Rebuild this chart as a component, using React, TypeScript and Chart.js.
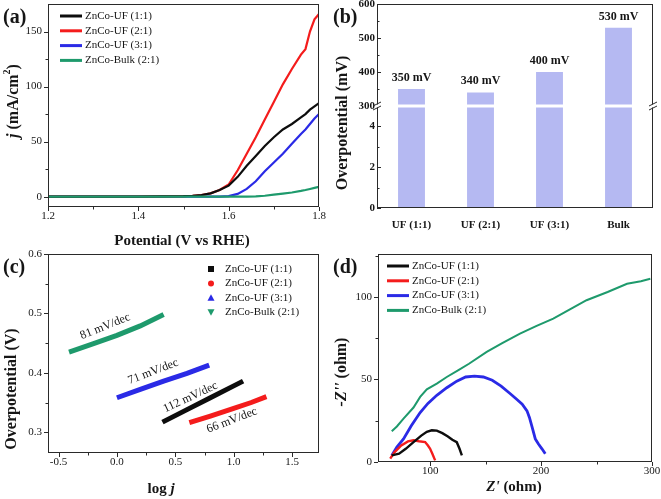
import React, { useEffect, useRef } from 'react';
import { Chart, registerables } from 'chart.js';

Chart.register(...registerables);

const SERIF = '"Liberation Serif", "Times New Roman", Times, serif';
Chart.defaults.font.family = SERIF;

// ---------------- data ----------------
const seriesNames = ['ZnCo-UF (1:1)', 'ZnCo-UF (2:1)', 'ZnCo-UF (3:1)', 'ZnCo-Bulk (2:1)'];

// (a) LSV curves: potential (V vs RHE) and current density (mA/cm2)
const lsvPotential = [1.2, 1.3, 1.4, 1.5, 1.52, 1.54, 1.56, 1.58, 1.6, 1.62, 1.64, 1.66, 1.68, 1.7, 1.72, 1.74, 1.76, 1.77, 1.78, 1.79, 1.8];
const lsvUF11 = [0, 0, 0.1, 0.4, 0.8, 1.5, 3, 6, 10, 18, 28, 37, 46, 54, 61, 66, 72, 75, 79, 82, 85];
const lsvUF21 = [0, 0, 0.1, 0.4, 0.8, 1.5, 3, 6, 11, 24, 39, 54, 70, 86, 102, 116, 129, 134, 150, 161, 166];
const lsvUF31 = [0, 0, 0, 0, 0, 0, 0, 0.1, 0.5, 2.5, 7, 14, 23, 31, 39, 48, 57, 61, 66, 71, 75];
const lsvBulk = [0, 0, 0, 0, 0, 0, 0, 0, 0, 0, 0, 0.3, 0.8, 1.8, 2.8, 3.8, 5.2, 6, 7, 8, 9];
const lsvXTicks = [1.2, 1.4, 1.6, 1.8];
const lsvXMinor = [1.3, 1.5, 1.7];
const lsvYTicks = [0, 50, 100, 150];
const lsvYMinor = [25, 75, 125];

// (b) overpotential bars
const barCategories = ['UF (1:1)', 'UF (2:1)', 'UF (3:1)', 'Bulk'];
const barValues = [350, 340, 400, 530];
const barHighTicks = [300, 400, 500, 600];
const barHighMinor = [350, 450, 550];
const barLowTicks = [0, 2, 4];
const barLowMinor = [1, 3];

// (c) Tafel
const tafelLogJ11 = [0.39, 0.6, 0.8, 1.0, 1.08];
const tafelEta11 = [0.317, 0.338, 0.358, 0.378, 0.386];
const tafelLogJ21 = [0.62, 0.8, 1.0, 1.15, 1.28];
const tafelEta21 = [0.316, 0.327, 0.34, 0.35, 0.36];
const tafelLogJ31 = [0.0, 0.2, 0.4, 0.6, 0.79];
const tafelEta31 = [0.358, 0.372, 0.386, 0.399, 0.413];
const tafelLogJBulk = [-0.41, -0.2, 0.0, 0.2, 0.4];
const tafelEtaBulk = [0.435, 0.449, 0.463, 0.479, 0.498];
const tafelSlopes = ['112 mV/dec', '66 mV/dec', '71 mV/dec', '81 mV/dec'];
const tafelXTicks = [-0.5, 0, 0.5, 1.0, 1.5];
const tafelXMinor = [-0.25, 0.25, 0.75, 1.25];
const tafelYTicks = [0.3, 0.4, 0.5, 0.6];
const tafelYMinor = [0.35, 0.45, 0.55];

// (d) Nyquist
const eisZre11 = [65.4, 72, 78, 85, 92, 97, 101.5, 106, 111, 116, 120, 124, 126.5, 128.6];
const eisZim11 = [4, 5, 8, 12, 16, 18.3, 19.2, 19, 17.5, 15.5, 13.5, 12, 8, 4];
const eisZre21 = [64, 68, 74, 80, 85, 90, 95.5, 98, 100, 102, 104.5];
const eisZim21 = [2, 6, 10, 12.5, 13.2, 12.6, 12.1, 10, 8, 5, 1];
const eisZre31 = [65.4, 70, 76, 83, 91, 98, 106, 115, 124, 132, 140, 148, 156, 164, 172, 178, 183, 187.3, 189.5, 192, 194.8, 197.5, 200.8, 203.8];
const eisZim31 = [4, 9, 14, 22, 30, 35.5, 40.4, 45, 49, 51.5, 52, 51.5, 49.5, 46, 41.5, 38, 35, 31, 27, 21, 14, 11, 8, 5];
const eisZreBulk = [65.4, 70, 76, 85, 91, 97, 106, 115, 125.5, 135, 151, 165, 181, 196, 211, 226, 241, 260, 277.5, 290, 298.5];
const eisZimBulk = [18.6, 21.5, 26.3, 33, 39.4, 44, 47.5, 51.5, 55.6, 59.5, 66.7, 72, 77.8, 82.5, 86.9, 92.5, 98, 103, 108, 109.5, 111];
const eisXTicks = [100, 200, 300];
const eisXMinor = [150, 250];
const eisYTicks = [0, 50, 100];
const eisYMinor = [25, 75, 125];

// ---------------- styles ----------------
const COLORS = ['#0d0d0d', '#f41c1c', '#2a2ae6', '#1e9a6c'];
const BAR = '#b5b9f2';
const AXIS = '#2a2a2a';
const TXT = '#161616';
const slopeLabelPlace = [
  { x: 0.63, y: 0.359, rot: -25 },
  { x: 0.985, y: 0.32, rot: -21 },
  { x: 0.31, y: 0.402, rot: -21 },
  { x: -0.1, y: 0.478, rot: -22 },
];

type Seg = { t: string; it?: boolean; sup?: boolean };

function richText(ctx: CanvasRenderingContext2D, segs: Seg[], x: number, y: number, size: number, vertical: boolean, bold = true) {
  const f = (s: Seg) => `${s.it ? 'italic ' : ''}${bold ? 'bold ' : ''}${s.sup ? Math.round(size * 0.62) : size}px ${SERIF}`;
  ctx.save();
  ctx.translate(x, y);
  if (vertical) ctx.rotate(-Math.PI / 2);
  let w = 0;
  const widths = segs.map((s) => {
    ctx.font = f(s);
    const m = ctx.measureText(s.t).width;
    w += m;
    return m;
  });
  let cx = -w / 2;
  ctx.textBaseline = 'middle';
  ctx.textAlign = 'left';
  ctx.fillStyle = TXT;
  segs.forEach((s, i) => {
    ctx.font = f(s);
    ctx.fillText(s.t, cx, s.sup ? -size * 0.38 : 0);
    cx += widths[i];
  });
  ctx.restore();
}

function panelLetter(ctx: CanvasRenderingContext2D, t: string) {
  ctx.save();
  ctx.font = `bold 20px ${SERIF}`;
  ctx.fillStyle = TXT;
  ctx.textBaseline = 'middle';
  ctx.textAlign = 'left';
  ctx.fillText(t, 3, 18);
  ctx.restore();
}

function drawFrame(ctx: CanvasRenderingContext2D, a: any) {
  ctx.save();
  ctx.strokeStyle = AXIS;
  ctx.lineWidth = 1;
  ctx.strokeRect(Math.round(a.left) + 0.5, Math.round(a.top) + 0.5, Math.round(a.right - a.left) - 1, Math.round(a.bottom - a.top) - 1);
  ctx.restore();
}

function drawTicks(ctx: CanvasRenderingContext2D, scale: any, values: number[], len: number, inward: boolean) {
  ctx.save();
  ctx.strokeStyle = AXIS;
  ctx.lineWidth = 1;
  ctx.beginPath();
  const horiz = scale.isHorizontal();
  values.forEach((v) => {
    const p = Math.round(scale.getPixelForValue(v)) + 0.5;
    if (horiz) {
      const y0 = scale.top;
      ctx.moveTo(p, y0);
      ctx.lineTo(p, inward ? y0 - len : y0 + len);
    } else {
      const x0 = scale.right;
      ctx.moveTo(x0, p);
      ctx.lineTo(inward ? x0 + len : x0 - len, p);
    }
  });
  ctx.stroke();
  ctx.restore();
}

function lineLegend(ctx: CanvasRenderingContext2D, x: number, y0: number, dy: number) {
  ctx.save();
  seriesNames.forEach((n, i) => {
    const y = y0 + i * dy;
    ctx.strokeStyle = COLORS[i];
    ctx.lineWidth = 3;
    ctx.beginPath();
    ctx.moveTo(x, y);
    ctx.lineTo(x + 22, y);
    ctx.stroke();
    ctx.fillStyle = TXT;
    ctx.font = `11px ${SERIF}`;
    ctx.textBaseline = 'middle';
    ctx.textAlign = 'left';
    ctx.fillText(n, x + 25, y);
  });
  ctx.restore();
}

function markerLegend(ctx: CanvasRenderingContext2D, x: number, y0: number, dy: number) {
  ctx.save();
  seriesNames.forEach((n, i) => {
    const y = y0 + i * dy;
    ctx.fillStyle = COLORS[i];
    ctx.beginPath();
    if (i === 0) ctx.rect(x - 3, y - 3, 6, 6);
    else if (i === 1) ctx.arc(x, y, 3, 0, Math.PI * 2);
    else if (i === 2) { ctx.moveTo(x, y - 3.5); ctx.lineTo(x + 3.5, y + 3); ctx.lineTo(x - 3.5, y + 3); ctx.closePath(); }
    else { ctx.moveTo(x, y + 3.5); ctx.lineTo(x + 3.5, y - 3); ctx.lineTo(x - 3.5, y - 3); ctx.closePath(); }
    ctx.fill();
    ctx.fillStyle = TXT;
    ctx.font = `11px ${SERIF}`;
    ctx.textBaseline = 'middle';
    ctx.textAlign = 'left';
    ctx.fillText(n, x + 14, y);
  });
  ctx.restore();
}

function linAxis(kind: 'x' | 'y', min: number, max: number, major: number[], fmt: (v: number) => string, size: number, pad: number, bold = false): any {
  return {
    type: 'linear',
    min,
    max,
    position: kind === 'x' ? 'bottom' : 'left',
    afterBuildTicks: (s: any) => {
      s.ticks = major.map((v) => ({ value: v }));
    },
    afterFit: (s: any) => {
      if (kind === 'y') s.width = size;
      else s.height = size;
      s.paddingTop = 0;
      s.paddingBottom = 0;
      s.paddingLeft = 0;
      s.paddingRight = 0;
    },
    grid: { display: false, drawTicks: false },
    border: { display: false },
    ticks: {
      autoSkip: false,
      maxRotation: 0,
      minRotation: 0,
      padding: pad,
      color: TXT,
      font: { family: SERIF, size: 11, weight: bold ? 'bold' : 'normal' },
      callback: (v: any) => fmt(Number(v)),
    },
  };
}

function baseOptions(pad: any): any {
  return {
    responsive: false,
    animation: false,
    events: [],
    layout: { padding: pad },
    plugins: { legend: { display: false }, tooltip: { enabled: false } },
  };
}

function pts(xs: number[], ys: number[]) {
  return xs.map((x, i) => ({ x, y: ys[i] }));
}

// ---------------- panels ----------------
function makeA(canvas: HTMLCanvasElement) {
  const ys = [lsvUF11, lsvUF21, lsvUF31, lsvBulk];
  return new Chart(canvas, {
    type: 'line',
    data: {
      datasets: ys.map((arr, i) => ({
        label: seriesNames[i],
        data: pts(lsvPotential, arr),
        borderColor: COLORS[i],
        borderWidth: 2.2,
        pointRadius: 0,
        fill: false,
        order: i === 3 ? 0 : i + 1,
      })),
    },
    options: {
      ...baseOptions({ top: 4, right: 11, left: 0, bottom: 0 }),
      scales: {
        x: linAxis('x', 1.2, 1.8, lsvXTicks, (v) => v.toFixed(1), 43, 3),
        y: linAxis('y', -9.4, 175, lsvYTicks, (v) => String(v), 48, 6),
      },
    },
    plugins: [
      {
        id: 'decorA',
        afterDraw(chart: any) {
          const ctx = chart.ctx;
          const { x, y } = chart.scales;
          drawFrame(ctx, chart.chartArea);
          drawTicks(ctx, x, lsvXTicks, 4, false);
          drawTicks(ctx, x, lsvXMinor, 2.5, false);
          drawTicks(ctx, y, lsvYTicks, 4, false);
          drawTicks(ctx, y, lsvYMinor, 2.5, false);
          lineLegend(ctx, 60, 16, 14.8);
          richText(ctx, [{ t: 'Potential (V vs RHE)' }], 182, 241, 15, false);
          richText(ctx, [{ t: 'j', it: true }, { t: ' (mA/cm' }, { t: '2', sup: true }, { t: ')' }], 14, 101, 16, true);
          panelLetter(ctx, '(a)');
        },
      },
    ],
  } as any);
}

function makeB(canvas: HTMLCanvasElement) {
  const barDs = (axisId: string) => ({
    label: axisId,
    data: barValues,
    yAxisID: axisId,
    backgroundColor: BAR,
    barPercentage: 0.39,
    categoryPercentage: 1,
    grouped: false,
  });
  return new Chart(canvas, {
    type: 'bar',
    data: { labels: barCategories, datasets: [barDs('yHigh'), barDs('yLow')] },
    options: {
      ...baseOptions({ top: 4, right: 8, left: 0, bottom: 0 }),
      scales: {
        x: {
          type: 'category',
          offset: true,
          grid: { display: false, drawTicks: false },
          border: { display: false },
          ticks: { padding: 11, color: TXT, font: { family: SERIF, size: 11, weight: 'bold' }, maxRotation: 0, autoSkip: false },
          afterFit: (s: any) => {
            s.height = 42;
            s.paddingTop = 0;
            s.paddingBottom = 0;
            s.paddingLeft = 0;
            s.paddingRight = 0;
          },
        },
        yLow: { ...linAxis('y', 0, 5, barLowTicks, (v) => String(v), 47, 2, true), stack: 'ov', stackWeight: 1 },
        yHigh: { ...linAxis('y', 300, 600, barHighTicks, (v) => String(v), 47, 2, true), stack: 'ov', stackWeight: 1 },
      },
    },
    plugins: [
      {
        id: 'decorB',
        afterDraw(chart: any) {
          const ctx = chart.ctx;
          const a = chart.chartArea;
          const hi = chart.scales.yHigh;
          const lo = chart.scales.yLow;
          drawFrame(ctx, a);
          drawTicks(ctx, hi, barHighTicks, 4, true);
          drawTicks(ctx, hi, barHighMinor, 2.5, true);
          drawTicks(ctx, lo, barLowTicks, 4, true);
          drawTicks(ctx, lo, barLowMinor, 2.5, true);
          const mid = (hi.bottom + lo.top) / 2;
          ctx.save();
          ctx.fillStyle = '#fff';
          ctx.fillRect(a.left - 1, mid - 1.5, a.right - a.left + 2, 3);
          ctx.strokeStyle = AXIS;
          ctx.lineWidth = 1;
          [a.left, a.right].forEach((x0) => {
            ctx.beginPath();
            [-2, 2].forEach((d) => {
              ctx.moveTo(x0 - 4, mid + d + 2);
              ctx.lineTo(x0 + 4, mid + d - 2);
            });
            ctx.stroke();
          });
          const meta = chart.getDatasetMeta(0);
          ctx.fillStyle = TXT;
          ctx.font = `bold 12px ${SERIF}`;
          ctx.textAlign = 'center';
          ctx.textBaseline = 'middle';
          meta.data.forEach((bar: any, i: number) => {
            ctx.fillText(`${barValues[i]} mV`, bar.x, bar.y - 11);
          });
          ctx.restore();
          richText(ctx, [{ t: 'Overpotential (mV)' }], 13, 123, 16, true);
          panelLetter(ctx, '(b)');
        },
      },
    ],
  } as any);
}

function makeC(canvas: HTMLCanvasElement) {
  const xs = [tafelLogJ11, tafelLogJ21, tafelLogJ31, tafelLogJBulk];
  const ys = [tafelEta11, tafelEta21, tafelEta31, tafelEtaBulk];
  return new Chart(canvas, {
    type: 'line',
    data: {
      datasets: xs.map((arr, i) => ({
        label: seriesNames[i],
        data: pts(arr, ys[i]),
        borderColor: COLORS[i],
        borderWidth: 5,
        pointRadius: 0,
        fill: false,
      })),
    },
    options: {
      ...baseOptions({ top: 4, right: 11, left: 0, bottom: 0 }),
      scales: {
        x: linAxis('x', -0.59, 1.73, tafelXTicks, (v) => v.toFixed(1), 46, 3),
        y: linAxis('y', 0.265, 0.6, tafelYTicks, (v) => v.toFixed(1), 48, 6),
      },
    },
    plugins: [
      {
        id: 'decorC',
        afterDraw(chart: any) {
          const ctx = chart.ctx;
          const { x, y } = chart.scales;
          drawFrame(ctx, chart.chartArea);
          drawTicks(ctx, x, tafelXTicks, 4, false);
          drawTicks(ctx, x, tafelXMinor, 2.5, false);
          drawTicks(ctx, y, tafelYTicks, 4, false);
          drawTicks(ctx, y, tafelYMinor, 2.5, false);
          ctx.save();
          ctx.fillStyle = TXT;
          ctx.font = `12px ${SERIF}`;
          ctx.textAlign = 'center';
          ctx.textBaseline = 'middle';
          slopeLabelPlace.forEach((p, i) => {
            ctx.save();
            ctx.translate(x.getPixelForValue(p.x), y.getPixelForValue(p.y));
            ctx.rotate((p.rot * Math.PI) / 180);
            ctx.fillText(tafelSlopes[i], 0, 0);
            ctx.restore();
          });
          ctx.restore();
          markerLegend(ctx, 211, 19, 14.4);
          richText(ctx, [{ t: 'log ' }, { t: 'j', it: true }], 161, 239, 15, false);
          richText(ctx, [{ t: 'Overpotential (V)' }], 12, 139, 16, true);
          panelLetter(ctx, '(c)');
        },
      },
    ],
  } as any);
}

function makeD(canvas: HTMLCanvasElement) {
  const xs = [eisZre11, eisZre21, eisZre31, eisZreBulk];
  const ys = [eisZim11, eisZim21, eisZim31, eisZimBulk];
  const widths = [2.4, 2.4, 2.8, 2];
  return new Chart(canvas, {
    type: 'line',
    data: {
      datasets: xs.map((arr, i) => ({
        label: seriesNames[i],
        data: pts(arr, ys[i]),
        borderColor: COLORS[i],
        borderWidth: widths[i],
        pointRadius: 0,
        fill: false,
      })),
    },
    options: {
      ...baseOptions({ top: 4, right: 9, left: 0, bottom: 0 }),
      scales: {
        x: linAxis('x', 53, 300, eisXTicks, (v) => String(v), 37, 3),
        y: linAxis('y', 0, 126, eisYTicks, (v) => String(v), 48, 6),
      },
    },
    plugins: [
      {
        id: 'decorD',
        afterDraw(chart: any) {
          const ctx = chart.ctx;
          const { x, y } = chart.scales;
          drawFrame(ctx, chart.chartArea);
          drawTicks(ctx, x, eisXTicks, 4, false);
          drawTicks(ctx, x, eisXMinor, 2.5, false);
          drawTicks(ctx, y, eisYTicks, 4, false);
          drawTicks(ctx, y, eisYMinor, 2.5, false);
          lineLegend(ctx, 57, 16, 14.8);
          richText(ctx, [{ t: "Z'", it: true }, { t: ' (ohm)' }], 184, 237, 15, false);
          richText(ctx, [{ t: "-Z''", it: true }, { t: ' (ohm)' }], 12, 122, 16, true);
          panelLetter(ctx, '(d)');
        },
      },
    ],
  } as any);
}

function Panel({ left, top, w, h, make }: { left: number; top: number; w: number; h: number; make: (c: HTMLCanvasElement) => Chart }) {
  const ref = useRef<HTMLCanvasElement>(null);
  useEffect(() => {
    if (!ref.current) return;
    const ch = make(ref.current);
    return () => ch.destroy();
  }, [make]);
  return <canvas ref={ref} width={w} height={h} style={{ position: 'absolute', left, top, width: w, height: h }} />;
}

export default function App() {
  return (
    <div style={{ position: 'absolute', left: 0, top: 0, width: 661, height: 499, background: '#fff', overflow: 'hidden' }}>
      <Panel left={0} top={0} w={330} h={250} make={makeA} />
      <Panel left={330} top={0} w={331} h={250} make={makeB} />
      <Panel left={0} top={250} w={330} h={249} make={makeC} />
      <Panel left={330} top={250} w={331} h={249} make={makeD} />
    </div>
  );
}
